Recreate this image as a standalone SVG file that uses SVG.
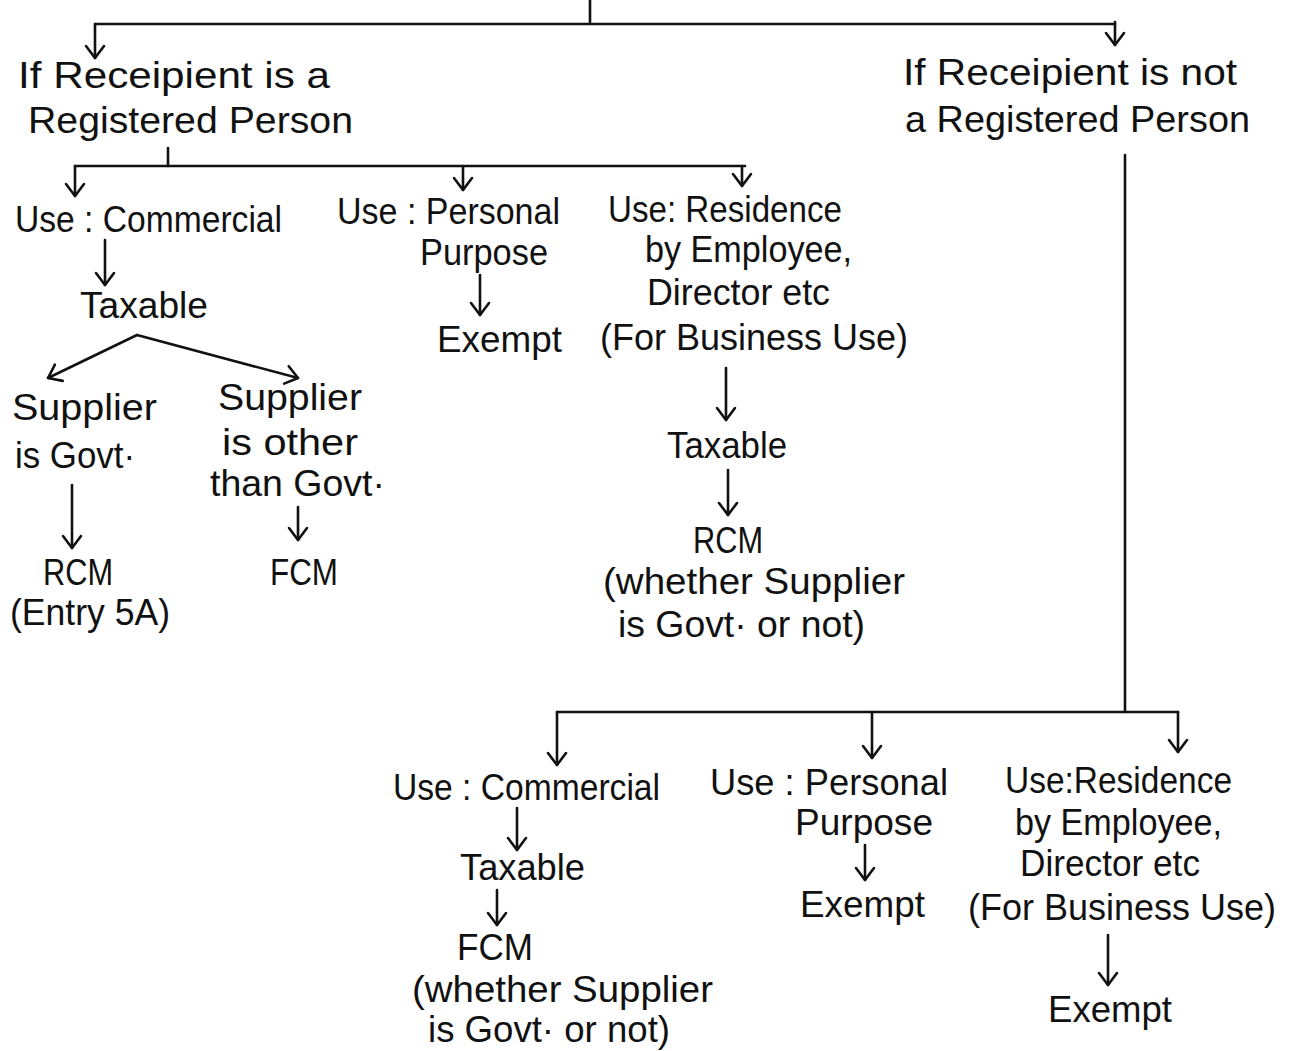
<svg xmlns="http://www.w3.org/2000/svg" width="1291" height="1051" viewBox="0 0 1291 1051">
  <style>
    .t { font-family: "Liberation Sans", "DejaVu Sans", sans-serif; font-size: 37px; fill: #111; }
    .c { fill: none; stroke: #111; stroke-width: 2.6; stroke-linecap: round; stroke-linejoin: round; }
  </style>
  <defs>
    <!-- open V arrowhead, drawn along +x so orient="auto" follows the line -->
    <marker id="arr" markerUnits="userSpaceOnUse" markerWidth="24" markerHeight="24" refX="20" refY="12" orient="auto" viewBox="0 0 24 24">
      <polyline points="8,3 20,12 8,21" fill="none" stroke="#111" stroke-width="2.6" stroke-linecap="round" stroke-linejoin="round"/>
    </marker>
  </defs>
  <rect width="1291" height="1051" fill="#fff"/>

  <g id="connectors">
    <!-- root split -->
    <path class="c" d="M590,0 V22"/>
    <path class="c" d="M95,24 H1115"/>
    <path class="c" d="M95,24 V58" marker-end="url(#arr)"/>
    <path class="c" d="M1115,22 V45" marker-end="url(#arr)"/>
    <!-- registered recipient split -->
    <path class="c" d="M168,148 V166"/>
    <path class="c" d="M75,166 H745"/>
    <path class="c" d="M75,166 V196" marker-end="url(#arr)"/>
    <path class="c" d="M463,166 V190" marker-end="url(#arr)"/>
    <path class="c" d="M742,166 V186" marker-end="url(#arr)"/>
    <path class="c" d="M105,240 V285" marker-end="url(#arr)"/>
    <path class="c" d="M137,335 L48,378" marker-end="url(#arr)"/>
    <path class="c" d="M137,335 L298,378" marker-end="url(#arr)"/>
    <path class="c" d="M72,485 V548" marker-end="url(#arr)"/>
    <path class="c" d="M298,507 V540" marker-end="url(#arr)"/>
    <path class="c" d="M480,275 V315" marker-end="url(#arr)"/>
    <path class="c" d="M726,368 V420" marker-end="url(#arr)"/>
    <path class="c" d="M728,470 V515" marker-end="url(#arr)"/>
    <!-- unregistered recipient split -->
    <path class="c" d="M1125,155 V712"/>
    <path class="c" d="M557,712 H1178"/>
    <path class="c" d="M557,712 V765" marker-end="url(#arr)"/>
    <path class="c" d="M872,712 V758" marker-end="url(#arr)"/>
    <path class="c" d="M1178,712 V752" marker-end="url(#arr)"/>
    <path class="c" d="M517,808 V850" marker-end="url(#arr)"/>
    <path class="c" d="M497,890 V925" marker-end="url(#arr)"/>
    <path class="c" d="M865,845 V880" marker-end="url(#arr)"/>
    <path class="c" d="M1108,935 V985" marker-end="url(#arr)"/>
  </g>

  <g id="registered">
    <text class="t" x="18" y="88" textLength="312" lengthAdjust="spacingAndGlyphs">If Receipient is a</text>
    <text class="t" x="28" y="133" textLength="325" lengthAdjust="spacingAndGlyphs">Registered Person</text>
  </g>
  <g id="not-registered">
    <text class="t" x="903" y="85" textLength="334" lengthAdjust="spacingAndGlyphs">If Receipient is not</text>
    <text class="t" x="905" y="132" textLength="345" lengthAdjust="spacingAndGlyphs">a Registered Person</text>
  </g>

  <g id="r-commercial">
    <text class="t" x="15" y="232" textLength="267" lengthAdjust="spacingAndGlyphs">Use : Commercial</text>
  </g>
  <g id="r-taxable">
    <text class="t" x="80" y="318" textLength="128" lengthAdjust="spacingAndGlyphs">Taxable</text>
  </g>
  <g id="r-supplier-govt">
    <text class="t" x="12" y="420" textLength="145" lengthAdjust="spacingAndGlyphs">Supplier</text>
    <text class="t" x="15" y="468" textLength="120" lengthAdjust="spacingAndGlyphs">is Govt·</text>
  </g>
  <g id="r-supplier-other">
    <text class="t" x="218" y="410" textLength="144" lengthAdjust="spacingAndGlyphs">Supplier</text>
    <text class="t" x="222" y="455" textLength="136" lengthAdjust="spacingAndGlyphs">is other</text>
    <text class="t" x="210" y="496" textLength="175" lengthAdjust="spacingAndGlyphs">than Govt·</text>
  </g>
  <g id="r-rcm-5a">
    <text class="t" x="43" y="585" textLength="70" lengthAdjust="spacingAndGlyphs">RCM</text>
    <text class="t" x="10" y="625" textLength="160" lengthAdjust="spacingAndGlyphs">(Entry 5A)</text>
  </g>
  <g id="r-fcm">
    <text class="t" x="270" y="585" textLength="68" lengthAdjust="spacingAndGlyphs">FCM</text>
  </g>

  <g id="r-personal">
    <text class="t" x="337" y="224" textLength="223" lengthAdjust="spacingAndGlyphs">Use : Personal</text>
    <text class="t" x="420" y="265" textLength="128" lengthAdjust="spacingAndGlyphs">Purpose</text>
  </g>
  <g id="r-exempt">
    <text class="t" x="437" y="352" textLength="125" lengthAdjust="spacingAndGlyphs">Exempt</text>
  </g>

  <g id="r-residence">
    <text class="t" x="608" y="222" textLength="234" lengthAdjust="spacingAndGlyphs">Use: Residence</text>
    <text class="t" x="645" y="262" textLength="207" lengthAdjust="spacingAndGlyphs">by Employee,</text>
    <text class="t" x="647" y="305" textLength="183" lengthAdjust="spacingAndGlyphs">Director etc</text>
    <text class="t" x="600" y="350" textLength="308" lengthAdjust="spacingAndGlyphs">(For Business Use)</text>
  </g>
  <g id="r-res-taxable">
    <text class="t" x="667" y="458" textLength="120" lengthAdjust="spacingAndGlyphs">Taxable</text>
  </g>
  <g id="r-res-rcm">
    <text class="t" x="693" y="553" textLength="70" lengthAdjust="spacingAndGlyphs">RCM</text>
    <text class="t" x="603" y="594" textLength="302" lengthAdjust="spacingAndGlyphs">(whether Supplier</text>
    <text class="t" x="618" y="637" textLength="247" lengthAdjust="spacingAndGlyphs">is Govt· or not)</text>
  </g>

  <g id="u-commercial">
    <text class="t" x="393" y="800" textLength="267" lengthAdjust="spacingAndGlyphs">Use : Commercial</text>
  </g>
  <g id="u-taxable">
    <text class="t" x="460" y="880" textLength="125" lengthAdjust="spacingAndGlyphs">Taxable</text>
  </g>
  <g id="u-fcm">
    <text class="t" x="457" y="960" textLength="76" lengthAdjust="spacingAndGlyphs">FCM</text>
    <text class="t" x="412" y="1002" textLength="301" lengthAdjust="spacingAndGlyphs">(whether Supplier</text>
    <text class="t" x="428" y="1042" textLength="242" lengthAdjust="spacingAndGlyphs">is Govt· or not)</text>
  </g>

  <g id="u-personal">
    <text class="t" x="710" y="795" textLength="238" lengthAdjust="spacingAndGlyphs">Use : Personal</text>
    <text class="t" x="795" y="835" textLength="138" lengthAdjust="spacingAndGlyphs">Purpose</text>
  </g>
  <g id="u-exempt">
    <text class="t" x="800" y="917" textLength="125" lengthAdjust="spacingAndGlyphs">Exempt</text>
  </g>

  <g id="u-residence">
    <text class="t" x="1005" y="793" textLength="227" lengthAdjust="spacingAndGlyphs">Use:Residence</text>
    <text class="t" x="1015" y="835" textLength="207" lengthAdjust="spacingAndGlyphs">by Employee,</text>
    <text class="t" x="1020" y="876" textLength="180" lengthAdjust="spacingAndGlyphs">Director etc</text>
    <text class="t" x="968" y="920" textLength="308" lengthAdjust="spacingAndGlyphs">(For Business Use)</text>
  </g>
  <g id="u-res-exempt">
    <text class="t" x="1048" y="1022" textLength="124" lengthAdjust="spacingAndGlyphs">Exempt</text>
  </g>
</svg>
